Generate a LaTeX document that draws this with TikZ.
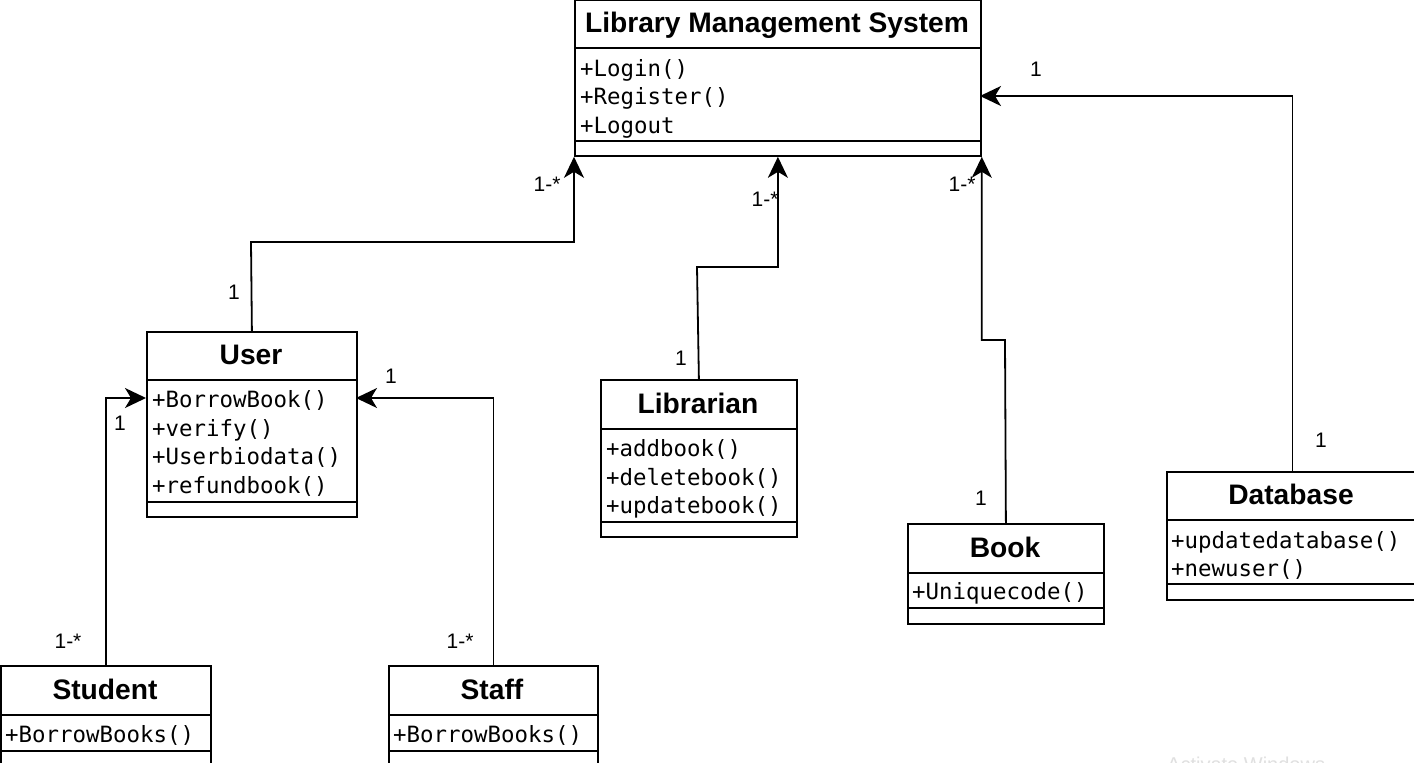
\documentclass[tikz,border=0pt]{standalone}
\usepackage{fontspec}
\setmainfont{Liberation Sans}
\newfontfamily\monof{DejaVu Sans Mono}
\usetikzlibrary{arrows.meta}
\begin{document}
\begin{tikzpicture}[x=1pt,y=-1pt,
  box/.style={draw, line width=1.8pt, inner sep=0pt, fill=white, anchor=north west},
  sep/.style={line width=1.8pt},
  ttl/.style={font=\bfseries\fontsize{28.2}{28}\selectfont, text height=20pt, text depth=0pt, inner sep=0pt},
  mth/.style={font=\monof\fontsize{22.4}{22}\selectfont, anchor=west, text height=16pt, text depth=0pt, inner sep=0pt},
  lbl/.style={font=\fontsize{21}{21}\selectfont, text height=15pt, text depth=0pt, inner sep=0pt},
  conn/.style={draw, line width=1.8pt, -{Stealth[length=21pt,width=20pt,inset=6pt]}}]
\useasboundingbox (0,0) rectangle (1414,763);
\fill[white] (0,0) rectangle (1414,763);

% Library Management System
\node[box, minimum width=406pt, minimum height=156pt] (lms) at (574,-1) {};
\draw[sep] (574,48) -- (980,48);
\draw[sep] (574,141) -- (980,141);
\node[ttl] (lmsT) at (777,22) {Library Management System};
\node[mth] (lmsM1) at (580,68) {+Login()};
\node[mth] (lmsM2) at (580,96) {+Register()};
\node[mth] (lmsM3) at (580,125) {+Logout};

% User
\node[box, minimum width=210pt, minimum height=185pt] (user) at (146,331) {};
\draw[sep] (146,380) -- (356,380);
\draw[sep] (146,502) -- (356,502);
\node[ttl] (userT) at (251,354) {User};
\node[mth] (userM1) at (152,399) {+BorrowBook()};
\node[mth] (userM2) at (152,428) {+verify()};
\node[mth] (userM3) at (152,456) {+Userbiodata()};
\node[mth] (userM4) at (152,485) {+refundbook()};

% Librarian
\node[box, minimum width=196pt, minimum height=157pt] (lib) at (600,379) {};
\draw[sep] (600,429) -- (796,429);
\draw[sep] (600,522) -- (796,522);
\node[ttl] (libT) at (698,403) {Librarian};
\node[mth] (libM1) at (606,448) {+addbook()};
\node[mth] (libM2) at (606,477) {+deletebook()};
\node[mth] (libM3) at (606,505) {+updatebook()};

% Book
\node[box, minimum width=196pt, minimum height=100pt] (book) at (907,523) {};
\draw[sep] (907,573) -- (1103,573);
\draw[sep] (907,608) -- (1103,608);
\node[ttl] (bookT) at (1005,547) {Book};
\node[mth] (bookM1) at (912,591) {+Uniquecode()};

% Database
\node[box, minimum width=251pt, minimum height=128pt] (db) at (1166,471) {};
\draw[sep] (1166,520) -- (1417,520);
\draw[sep] (1166,584) -- (1417,584);
\node[ttl] (dbT) at (1291,494) {Database};
\node[mth] (dbM1) at (1171,540) {+updatedatabase()};
\node[mth] (dbM2) at (1171,568) {+newuser()};

% Student
\node[box, minimum width=210pt, minimum height=125pt] (student) at (0,665) {};
\draw[sep] (0,715) -- (210,715);
\draw[sep] (0,751) -- (210,751);
\node[ttl] (studentT) at (105,689) {Student};
\node[mth] (studentM1) at (5,734) {+BorrowBooks()};

% Staff
\node[box, minimum width=209pt, minimum height=125pt] (staff) at (388,665) {};
\draw[sep] (388,715) -- (597,715);
\draw[sep] (388,751) -- (597,751);
\node[ttl] (staffT) at (492,689) {Staff};
\node[mth] (staffM1) at (393,734) {+BorrowBooks()};

% connector end points
\coordinate (dbIn) at (980,96);
\coordinate (userInL) at (146,398);
\coordinate (userInR) at (356,398);
\coordinate (userBend) at (251,242);
\coordinate (libBend) at (697,267);
\coordinate (bookBend) at (1005,340);

% connectors
\draw[conn] (user.north) -- (userBend) -| (lms.south west);
\draw[conn] (lib.north) -- (libBend) -| (lms.south);
\draw[conn] (book.north) -- (bookBend) -| (lms.south east);
\draw[conn] (db.north) |- (dbIn);
\draw[conn] (student.north) |- (userInL);
\draw[conn] (staff.north) |- (userInR);

% multiplicities
\node[lbl] (l1) at (234,292) {1};
\node[lbl] (l2) at (547,184) {1-*};
\node[lbl] (l3) at (681,358) {1};
\node[lbl] (l4) at (765,199) {1-*};
\node[lbl] (l5) at (981,498) {1};
\node[lbl] (l6) at (962,184) {1-*};
\node[lbl] (l7) at (1321,440) {1};
\node[lbl] (l8) at (1036,69) {1};
\node[lbl] (l9) at (120,423) {1};
\node[lbl] (l10) at (68,641) {1-*};
\node[lbl] (l11) at (391,376) {1};
\node[lbl] (l12) at (460,641) {1-*};

% watermark
\node[font=\fontsize{20}{20}\selectfont, text=black!12, anchor=base west, inner sep=0pt] (wm) at (1167,771) {Activate Windows};
\end{tikzpicture}
\end{document}
